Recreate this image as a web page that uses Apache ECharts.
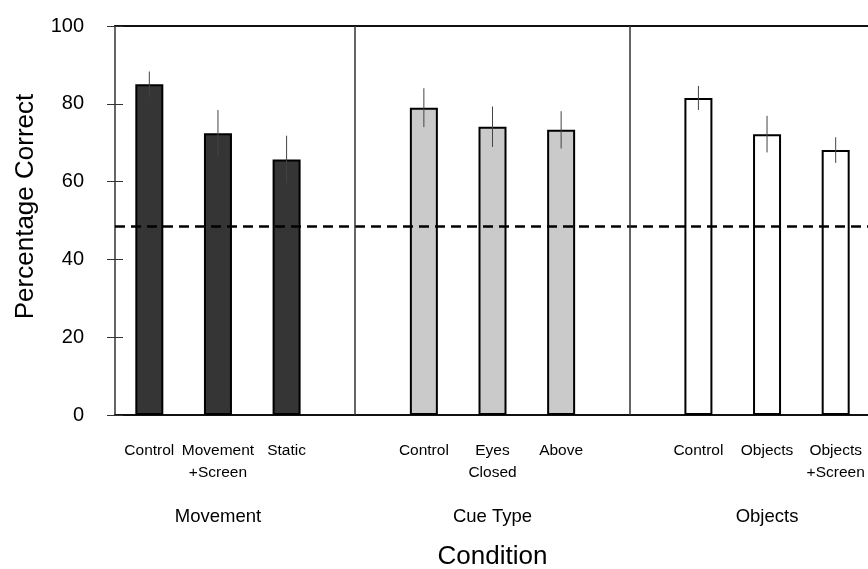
<!DOCTYPE html>
<html>
<head>
<meta charset="utf-8">
<script src="https://cdn.jsdelivr.net/npm/echarts@6/dist/echarts.min.js"></script>
<style>
    html, body { margin: 0; padding: 0; background: #fff; }
    #conditionChart { width: 868px; height: 569px; }
</style>
</head>
<body>
<div id="conditionChart"></div>
<script>
// 数据
const categories = ['Control', 'Movement\n+Screen', 'Static', '', 'Control', 'Eyes\nClosed', 'Above', '', 'Control', 'Objects', 'Objects\n+Screen'];
const groupLabels = ['', 'Movement', '', '', '', 'Cue Type', '', '', '', 'Objects', ''];
const meanValues = [85.0, 72.4, 65.7, null, 79.0, 74.1, 73.3, null, 81.5, 72.2, 68.1];
const errorValues = [3.3, 6.0, 6.1, null, 5.0, 5.2, 4.8, null, 3.1, 4.7, 3.3];
const barFills = ['#353535', '#353535', '#353535', null, '#cacaca', '#cacaca', '#cacaca', null, '#ffffff', '#ffffff', '#ffffff'];
const dividerSlots = [3, 7];
const chanceLevel = 48.6;
const yTicks = [0, 20, 40, 60, 80, 100];

window.addEventListener('DOMContentLoaded', function() {
    initConditionChart();
});

function initConditionChart() {
    const chartDom = document.getElementById('conditionChart');
    const myChart = echarts.init(chartDom);
    const font = 'Liberation Sans, Arial, Helvetica, sans-serif';

    const barData = meanValues.map((v, i) => ({
        value: v,
        itemStyle: { color: barFills[i] || '#fff' }
    }));

    const errorData = meanValues
        .map((v, i) => [i, v, errorValues[i]])
        .filter(d => d[1] !== null);

    const option = {
        animation: false,
        grid: {
            left: 115,
            top: 26,
            width: 755,
            bottom: 154,
            outerBoundsMode: 'none',
            containLabel: false
        },
        xAxis: [
            {
                type: 'category',
                data: categories,
                position: 'bottom',
                axisLine: { lineStyle: { color: '#111', width: 2 } },
                axisTick: { show: false },
                axisLabel: {
                    interval: 0,
                    color: '#000',
                    fontFamily: font,
                    fontSize: 15.5,
                    lineHeight: 22,
                    margin: 25
                },
                name: 'Condition',
                nameLocation: 'middle',
                nameGap: 129,
                nameTextStyle: { color: '#000', fontFamily: font, fontSize: 26 }
            },
            {
                type: 'category',
                data: groupLabels,
                position: 'bottom',
                axisLine: { show: false },
                axisTick: { show: false },
                axisLabel: {
                    interval: 0,
                    color: '#000',
                    fontFamily: font,
                    fontSize: 18.5,
                    margin: 92
                }
            },
            {
                type: 'category',
                data: categories,
                position: 'top',
                axisLine: { lineStyle: { color: '#111', width: 2 } },
                axisTick: { show: false },
                axisLabel: { show: false }
            }
        ],
        yAxis: [
            {
                type: 'value',
                min: 0,
                max: 100,
                interval: 20,
                axisLine: { show: true, lineStyle: { color: '#666', width: 2 } },
                axisTick: { show: true, length: 8, lineStyle: { color: '#333' } },
                splitLine: { show: false },
                axisLabel: {
                    color: '#000',
                    fontFamily: font,
                    fontSize: 20,
                    margin: 31,
                    formatter: v => (yTicks.includes(v) ? String(v) : '')
                },
                name: 'Percentage Correct',
                nameLocation: 'middle',
                nameGap: 76,
                nameTextStyle: {
                    color: '#000',
                    fontFamily: font,
                    fontSize: 26,
                    padding: [0, 0, 0, 28]
                }
            },
            {
                type: 'value',
                min: 0,
                max: 100,
                interval: 20,
                position: 'left',
                axisLine: { show: false },
                axisTick: { show: true, inside: true, length: 8, lineStyle: { color: '#333' } },
                axisLabel: { show: false },
                splitLine: { show: false }
            }
        ],
        series: [
            {
                name: '平均正确率',
                type: 'bar',
                xAxisIndex: 0,
                yAxisIndex: 0,
                data: barData,
                barWidth: 28,
                itemStyle: {
                    borderColor: '#000',
                    borderWidth: 2
                },
                markLine: {
                    symbol: 'none',
                    silent: true,
                    label: { show: false },
                    data: [
                        {
                            yAxis: chanceLevel,
                            lineStyle: { color: '#000', width: 2.5, type: [10, 6] }
                        }
                    ].concat(dividerSlots.map(s => ({
                        xAxis: s,
                        lineStyle: { color: '#333', width: 1.5, type: 'solid' }
                    })))
                },
                z: 2
            },
            {
                name: '误差',
                type: 'custom',
                xAxisIndex: 0,
                yAxisIndex: 0,
                data: errorData,
                renderItem: function(params, api) {
                    const x = api.value(0);
                    const m = api.value(1);
                    const e = api.value(2);
                    const top = api.coord([x, m + e]);
                    const bottom = api.coord([x, m - e]);
                    return {
                        type: 'line',
                        shape: { x1: top[0], y1: top[1], x2: bottom[0], y2: bottom[1] },
                        style: { stroke: '#444', lineWidth: 1 }
                    };
                },
                z: 3
            }
        ]
    };

    myChart.setOption(option);
    window.addEventListener('resize', () => myChart.resize());
}
</script>
</body>
</html>
